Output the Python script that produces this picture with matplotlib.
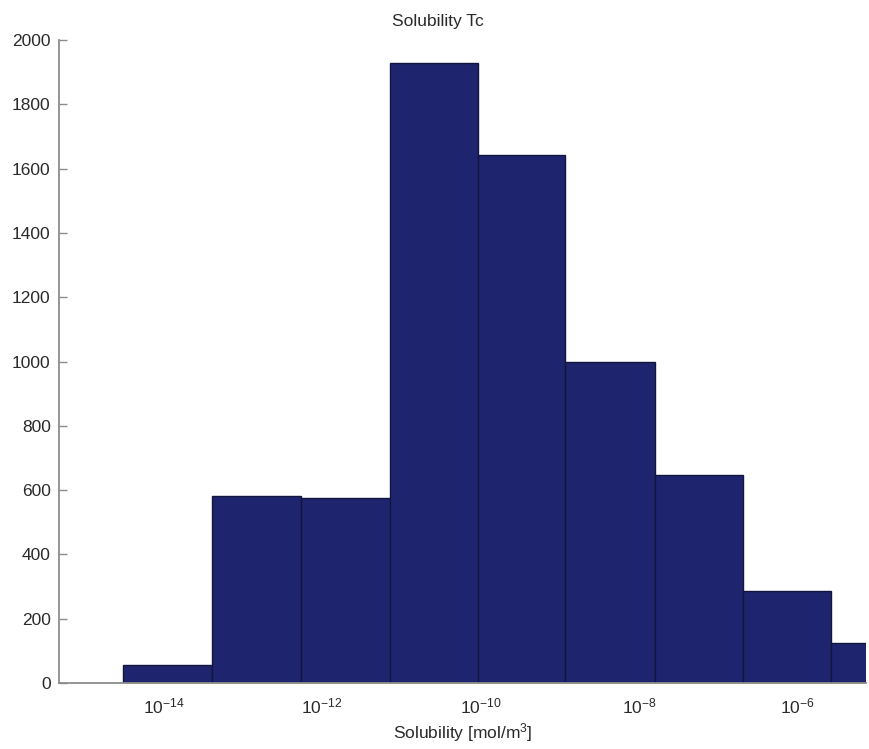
import numpy as np
import matplotlib
matplotlib.use("Agg")
import matplotlib.pyplot as plt

plt.rcParams['font.family'] = ['Liberation Sans', 'DejaVu Sans']
plt.rcParams['mathtext.fontset'] = 'custom'
plt.rcParams['mathtext.rm'] = 'Liberation Sans'
plt.rcParams['mathtext.it'] = 'Liberation Sans'

# Histogram bin edges (log10 of solubility, mol/m^3) and counts per bin
bin_edges_log10 = [-14.51, -13.39, -12.27, -11.14, -10.03, -8.93, -7.80, -6.69, -5.58, -4.46]
counts = [56, 581, 575, 1930, 1641, 1000, 646, 286, 124]

xtick_exponents = [-14, -12, -10, -8, -6]
yticks = list(range(0, 2001, 200))

bar_color = '#1f246e'
edge_color = '#12163f'
axis_color = '#8c8c8c'
text_color = '#2a2a2a'
fs = 12.5

fig = plt.figure(figsize=(8.70, 7.49), dpi=100)
ax = fig.add_axes([59 / 870, 1 - 683 / 749, (866 - 59) / 870, (683 - 40) / 749])

edges = 10.0 ** np.array(bin_edges_log10)
ax.bar(edges[:-1], counts, width=np.diff(edges), align='edge',
       color=bar_color, edgecolor=edge_color, linewidth=1.0, zorder=2)

ax.set_xscale('log')
ax.set_xlim(10 ** -15.32, 10 ** -5.135)
ax.set_ylim(0, 2000)

ax.set_xticks([10.0 ** e for e in xtick_exponents])
ax.set_xticklabels([r'$10^{%d}$' % e for e in xtick_exponents])
ax.xaxis.set_minor_locator(matplotlib.ticker.NullLocator())
ax.set_yticks(yticks)
ax.set_yticklabels([str(v) for v in yticks])

for side in ('top', 'right'):
    ax.spines[side].set_visible(False)
for side in ('left', 'bottom'):
    ax.spines[side].set_color(axis_color)
    ax.spines[side].set_linewidth(1.3)

ax.tick_params(axis='y', direction='in', length=6, width=1.0, color=axis_color,
               labelsize=fs, labelcolor=text_color, pad=6)
ax.tick_params(axis='x', direction='in', length=0, labelsize=fs,
               labelcolor=text_color, pad=10)

ax.set_xlabel(r'Solubility [mol/m$^3$]', fontsize=fs, color=text_color, labelpad=3)
ax.set_title('Solubility Tc', fontsize=fs, color=text_color, x=0.47, pad=10)

fig.savefig('out.png', dpi=100, facecolor='white')
